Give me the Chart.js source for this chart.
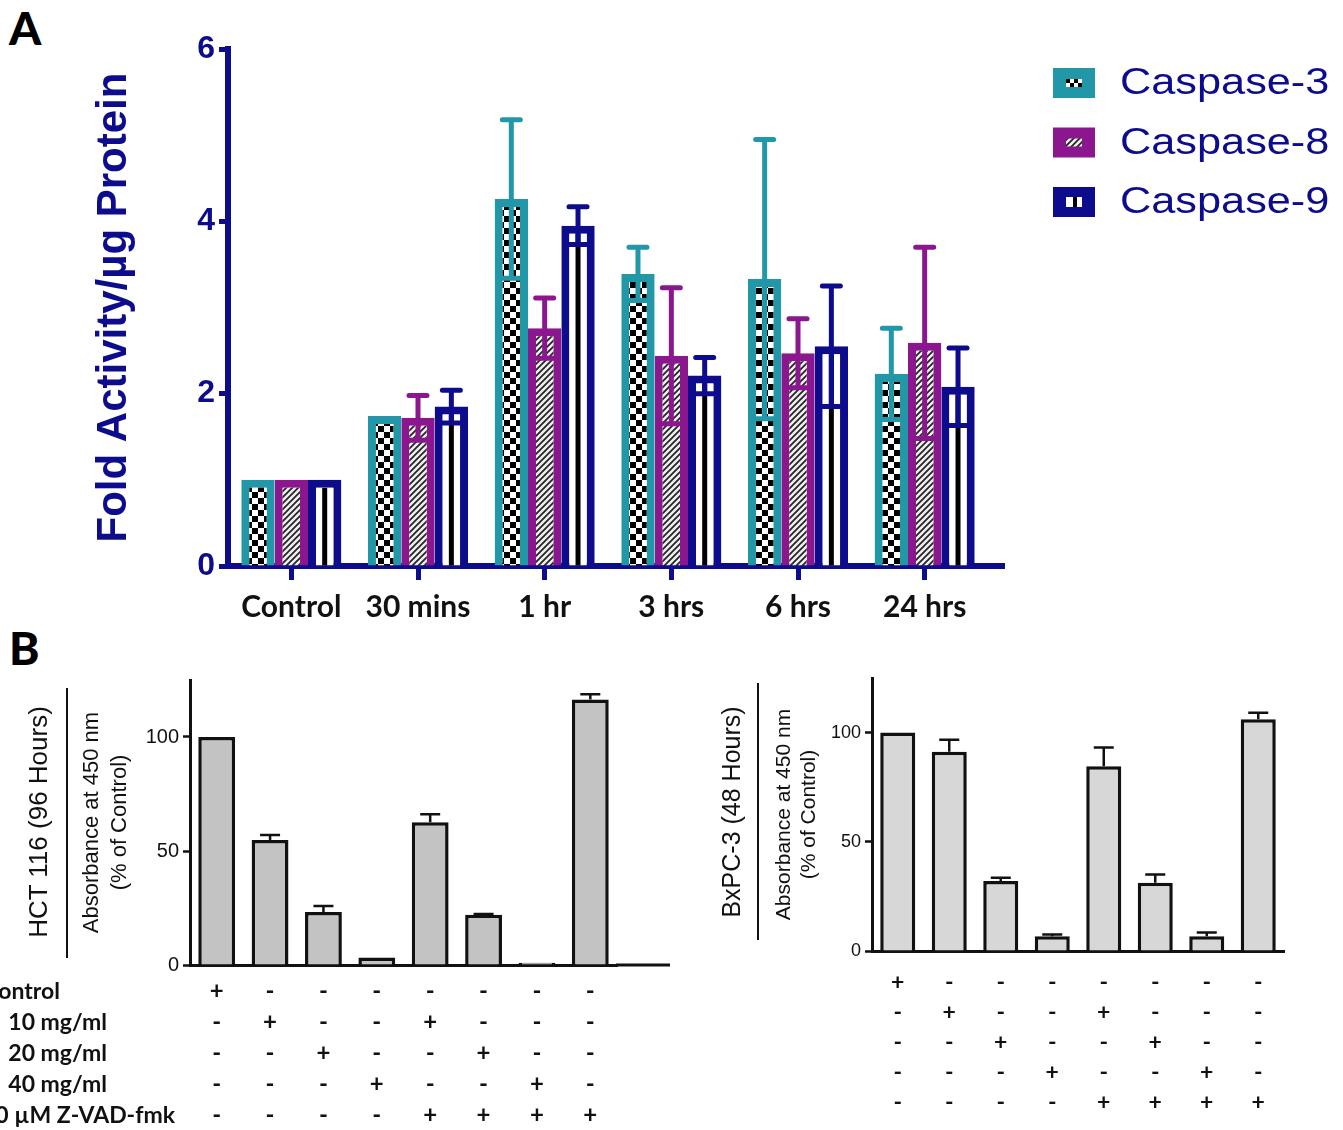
<!DOCTYPE html>
<html>
<head>
<meta charset="utf-8">
<script src="https://cdn.jsdelivr.net/npm/chart.js@4.4.1/dist/chart.umd.min.js"></script>
<style>
  html, body { margin: 0; padding: 0; background: #fff; }
  body { width: 1343px; height: 1130px; position: relative; overflow: hidden; font-family: "Liberation Sans", Arial, sans-serif; }
  canvas { position: absolute; }
  .txt { position: absolute; white-space: nowrap; }
  .rot { position: absolute; white-space: nowrap; transform: translate(-50%, -50%) rotate(-90deg); }
  .rowlbl { position: absolute; white-space: nowrap; text-align: right; font: bold 23px Lato, "Open Sans", sans-serif; color: #111; line-height: 30px; }
  .sep { position: absolute; background: #111; width: 2px; }
</style>
</head>
<body>

<div class="txt" style="left:9px; top:0px; font: 900 46px Lato, sans-serif; color:#000;">A</div>
<div class="txt" style="left:9px; top:620px; font: 900 46px Lato, sans-serif; color:#000;">B</div>

<canvas id="chartA" width="1343" height="640" style="left:0; top:0; width:1343px; height:640px;"></canvas>
<canvas id="chartHCT" width="700" height="490" style="left:0; top:640px; width:700px; height:490px;"></canvas>
<canvas id="chartBX" width="643" height="490" style="left:700px; top:640px; width:643px; height:490px;"></canvas>

<div class="rot" style="left:38px; top:822px; font: 26px 'Liberation Sans', Arial, sans-serif; color:#111;">HCT 116 (96 Hours)</div>
<div class="sep" style="left:66px; top:688px; height:270px;"></div>
<div class="rot" style="left:731px; top:812px; font: 25px 'Liberation Sans', Arial, sans-serif; color:#111;">BxPC-3 (48 Hours)</div>
<div class="sep" style="left:757px; top:683px; height:257px;"></div>

<div id="rowLabels"></div>

<script>
// ---------- Panel A: caspase activity over time ----------
const timeLabels = ['Control', '30 mins', '1 hr', '3 hrs', '6 hrs', '24 hrs'];
const caspase3 = [1.0, 1.74, 4.26, 3.39, 3.33, 2.23];
const caspase3Err = [0, 0, 0.92, 0.31, 1.62, 0.53];
const caspase8 = [1.0, 1.72, 2.76, 2.44, 2.47, 2.59];
const caspase8Err = [0, 0.26, 0.35, 0.79, 0.40, 1.11];
const caspase9 = [1.0, 1.85, 3.95, 2.21, 2.55, 2.08];
const caspase9Err = [0, 0.19, 0.22, 0.21, 0.70, 0.45];
const yTicksA = [0, 2, 4, 6];

// ---------- Panel B: viability with and without caspase inhibitor ----------
const treatmentRows = ['Control', '10 mg/ml', '20 mg/ml', '40 mg/ml', '0 \u00b5M Z-VAD-fmk'];
const treatmentMatrix = [
  [1, 0, 0, 0, 0, 0, 0, 0],
  [0, 1, 0, 0, 1, 0, 0, 0],
  [0, 0, 1, 0, 0, 1, 0, 0],
  [0, 0, 0, 1, 0, 0, 1, 0],
  [0, 0, 0, 0, 1, 1, 1, 1]
];
const hctValues = [100, 54.8, 23.2, 3.3, 62.6, 22.0, 1.0, 116.4];
const hctErr = [0, 2.2, 2.7, 0, 3.5, 0.4, 0, 2.4];
const bxpcValues = [100, 91.2, 32.0, 6.7, 84.6, 31.2, 6.7, 106.1];
const bxpcErr = [0, 5.5, 1.5, 0.8, 8.6, 3.8, 1.8, 3.0];
const yTicksB = [0, 50, 100];

const TEAL = '#2197a8';
const PURPLE = '#8b178f';
const NAVY = '#0c0c8c';

// columns of +/- marks, one multi-line tick label per bar
const columnMarks = treatmentMatrix[0].map((_, c) => treatmentMatrix.map(r => r[c] ? '+' : '-'));

function makeFill(ctx, kind) {
  const c = document.createElement('canvas');
  const g = c.getContext('2d');
  if (kind === 'checker') {
    c.width = 12; c.height = 12;
    g.fillStyle = '#fff'; g.fillRect(0, 0, 12, 12);
    g.fillStyle = '#000'; g.fillRect(0, 0, 6, 6); g.fillRect(6, 6, 6, 6);
  } else {
    c.width = 6; c.height = 6;
    g.fillStyle = '#eee'; g.fillRect(0, 0, 6, 6);
    g.strokeStyle = '#222'; g.lineWidth = 1.7;
    g.beginPath();
    g.moveTo(-1, 7); g.lineTo(7, -1);
    g.moveTo(-4, 4); g.lineTo(4, -4);
    g.moveTo(2, 10); g.lineTo(10, 2);
    g.stroke();
  }
  return ctx.createPattern(c, 'repeat');
}

// stripes inside striped bars, then +/- error bars with caps
const caspaseMarks = {
  id: 'caspaseMarks',
  afterDatasetsDraw(chart, args, opts) {
    const ctx = chart.ctx;
    const y = chart.scales.y;
    ctx.save();
    chart.data.datasets.forEach((ds, di) => {
      if (!opts.stripe[di]) return;
      const bw = ds.borderWidth;
      chart.getDatasetMeta(di).data.forEach(bar => {
        const p = bar.getProps(['x', 'y', 'base'], true);
        ctx.fillStyle = '#000';
        ctx.fillRect(p.x - 2.5, p.y + bw, 5, p.base - p.y - bw);
      });
    });
    chart.data.datasets.forEach((ds, di) => {
      const errs = opts.errors[di];
      const bw = ds.borderWidth;
      ctx.strokeStyle = ds.borderColor;
      ctx.lineWidth = 5;
      ctx.lineCap = 'round';
      chart.getDatasetMeta(di).data.forEach((bar, j) => {
        const e = errs[j];
        if (!e) return;
        const v = ds.data[j];
        const p = bar.getProps(['x', 'width'], true);
        const yHi = y.getPixelForValue(v + e);
        const yLo = y.getPixelForValue(v - e);
        const inner = p.width / 2 - bw;
        ctx.beginPath();
        ctx.moveTo(p.x, yLo); ctx.lineTo(p.x, yHi);
        ctx.moveTo(p.x - 9, yHi); ctx.lineTo(p.x + 9, yHi);
        ctx.moveTo(p.x - inner, yLo); ctx.lineTo(p.x + inner, yLo);
        ctx.stroke();
      });
    });
    // axis line runs a little past the last group
    const a = chart.chartArea;
    ctx.strokeStyle = NAVY; ctx.lineWidth = 6; ctx.lineCap = 'butt';
    ctx.beginPath();
    ctx.moveTo(a.right - 2, a.bottom); ctx.lineTo(a.right + opts.axisExtra, a.bottom);
    ctx.stroke();
    ctx.restore();
  }
};

const legendA = {
  id: 'legendA',
  afterDraw(chart, args, opts) {
    const ctx = chart.ctx;
    ctx.save();
    chart.data.datasets.forEach((ds, i) => {
      const top = opts.top + i * opts.gap;
      ctx.fillStyle = ds.borderColor;
      ctx.fillRect(opts.left, top, 42, 30);
      const cx = opts.left + 21, cy = top + 15;
      if (i === 0) {
        ctx.fillStyle = '#fff'; ctx.fillRect(cx - 8, cy - 4, 16, 8);
        ctx.fillStyle = '#000';
        ctx.fillRect(cx - 8, cy - 4, 4, 4); ctx.fillRect(cx, cy - 4, 4, 4);
        ctx.fillRect(cx - 4, cy, 4, 4); ctx.fillRect(cx + 4, cy, 4, 4);
      } else if (i === 1) {
        ctx.fillStyle = ds.backgroundColor; ctx.fillRect(cx - 8, cy - 4, 16, 8);
      } else {
        ctx.fillStyle = '#fff'; ctx.fillRect(cx - 8, cy - 5, 16, 10);
        ctx.fillStyle = '#000'; ctx.fillRect(cx - 1, cy - 5, 4, 10);
      }
      ctx.fillStyle = NAVY;
      ctx.font = '37px "Liberation Sans", Arial, sans-serif';
      ctx.textBaseline = 'middle';
      ctx.save();
      ctx.translate(opts.textX, cy + 1);
      ctx.scale(1.17, 1);
      ctx.fillText(ds.label, 0, 0);
      ctx.restore();
    });
    ctx.restore();
  }
};

const ctxA = document.getElementById('chartA').getContext('2d');
new Chart(ctxA, {
  type: 'bar',
  data: {
    labels: timeLabels,
    datasets: [
      { label: 'Caspase-3', data: caspase3, backgroundColor: makeFill(ctxA, 'checker'), borderColor: TEAL, borderWidth: 8, borderSkipped: 'start' },
      { label: 'Caspase-8', data: caspase8, backgroundColor: makeFill(ctxA, 'hatch'), borderColor: PURPLE, borderWidth: 8, borderSkipped: 'start' },
      { label: 'Caspase-9', data: caspase9, backgroundColor: '#ffffff', borderColor: NAVY, borderWidth: 8, borderSkipped: 'start' }
    ]
  },
  options: {
    responsive: false,
    animation: false,
    events: [],
    layout: { padding: { top: 49, right: 1343 - 988, left: 0, bottom: 0 } },
    datasets: { bar: { categoryPercentage: 0.79, barPercentage: 1.0 } },
    scales: {
      x: {
        z: 1,
        afterFit: s => { s.height = 74; },
        border: { display: true, color: NAVY, width: 6 },
        grid: { drawOnChartArea: false, drawTicks: true, tickLength: 14, tickWidth: 5, tickColor: NAVY, offset: false },
        ticks: { color: '#111', font: { family: 'Lato, "Open Sans", sans-serif', size: 30, weight: 'bold' }, padding: 9, maxRotation: 0, autoSkip: false }
      },
      y: {
        min: 0, max: 6,
        afterFit: s => { s.width = 228; },
        afterBuildTicks: s => { s.ticks = yTicksA.map(v => ({ value: v })); },
        border: { display: true, color: NAVY, width: 6 },
        grid: { drawOnChartArea: false, drawTicks: true, tickLength: 9, tickWidth: 5, tickColor: NAVY },
        ticks: { color: NAVY, font: { family: '"Liberation Sans", Arial, sans-serif', size: 32, weight: 'bold' }, padding: 4 },
        title: { display: true, text: 'Fold Activity/\u00b5g Protein', color: NAVY, font: { family: '"Liberation Sans", Arial, sans-serif', size: 42, weight: 'bold' }, padding: { top: 89, bottom: 0 } }
      }
    },
    plugins: {
      legend: { display: false },
      tooltip: { enabled: false },
      caspaseMarks: { errors: [caspase3Err, caspase8Err, caspase9Err], stripe: [false, false, true], axisExtra: 17 },
      legendA: { left: 1053, top: 68, gap: 59.5, textX: 1120 }
    }
  },
  plugins: [caspaseMarks, legendA]
});

// ---------- Panel B charts ----------
const upperErrors = {
  id: 'upperErrors',
  afterDatasetsDraw(chart, args, opts) {
    const ctx = chart.ctx;
    const y = chart.scales.y;
    const ds = chart.data.datasets[0];
    ctx.save();
    ctx.strokeStyle = '#111';
    ctx.lineWidth = 2.5;
    chart.getDatasetMeta(0).data.forEach((bar, j) => {
      const e = opts.errors[j];
      if (!e) return;
      const x = bar.getProps(['x'], true).x;
      const y0 = y.getPixelForValue(ds.data[j]);
      const y1 = y.getPixelForValue(ds.data[j] + e);
      ctx.beginPath();
      ctx.moveTo(x, y0); ctx.lineTo(x, y1);
      ctx.moveTo(x - 10, y1); ctx.lineTo(x + 10, y1);
      ctx.stroke();
    });
    const a = chart.chartArea;
    if (opts.axisExtra) {
      ctx.lineWidth = 3;
      ctx.beginPath();
      ctx.moveTo(a.right - 1, a.bottom); ctx.lineTo(a.right + opts.axisExtra, a.bottom);
      ctx.stroke();
    }
    ctx.restore();
  }
};

function viabilityChart(id, values, errs, cfg) {
  const ctx = document.getElementById(id).getContext('2d');
  return new Chart(ctx, {
    type: 'bar',
    data: {
      labels: columnMarks,
      datasets: [{ data: values, backgroundColor: cfg.fill, borderColor: '#111', borderWidth: 3.5, borderSkipped: 'start' }]
    },
    options: {
      responsive: false,
      animation: false,
      events: [],
      layout: { padding: { top: cfg.top, right: cfg.right, left: 0, bottom: 0 } },
      datasets: { bar: { categoryPercentage: cfg.barFrac, barPercentage: 1.0 } },
      scales: {
        x: {
          z: 1,
          afterFit: s => { s.height = cfg.xHeight; },
          border: { display: true, color: '#111', width: 3 },
          grid: { display: false },
          ticks: { color: '#111', font: { family: 'Lato, "Open Sans", sans-serif', size: cfg.markSize, weight: 'bold', lineHeight: cfg.rowGap / cfg.markSize }, padding: cfg.markPad, maxRotation: 0, autoSkip: false }
        },
        y: {
          min: 0, max: 125,
          afterFit: s => { s.width = cfg.yWidth; },
          afterBuildTicks: s => { s.ticks = yTicksB.map(v => ({ value: v })); },
          border: { display: true, color: '#111', width: 3 },
          grid: { drawOnChartArea: false, drawTicks: true, tickLength: 7, tickWidth: 2.5, tickColor: '#111' },
          ticks: { color: '#111', font: { family: '"Liberation Sans", Arial, sans-serif', size: cfg.tickSize }, padding: 4 },
          title: { display: true, text: ['Absorbance at 450 nm', '(% of Control)'], color: '#111',
                   font: { family: '"Liberation Sans", Arial, sans-serif', size: cfg.titleSize, lineHeight: cfg.titleLine / cfg.titleSize },
                   padding: { top: cfg.titlePad, bottom: 0 } }
        }
      },
      plugins: {
        legend: { display: false },
        tooltip: { enabled: false },
        upperErrors: { errors: errs, axisExtra: cfg.axisExtra }
      }
    },
    plugins: [upperErrors]
  });
}

viabilityChart('chartHCT', hctValues, hctErr, {
  fill: '#c3c3c3', top: 40, right: 700 - 617, xHeight: 165, yWidth: 190, barFrac: 0.69,
  markSize: 24, rowGap: 31, markPad: 3, tickSize: 20, titleSize: 22, titleLine: 28, titlePad: 78, axisExtra: 53
});
viabilityChart('chartBX', bxpcValues, bxpcErr, {
  fill: '#d7d7d7', top: 38, right: 643 - 1284 + 700, xHeight: 179, yWidth: 172, barFrac: 0.68,
  markSize: 23, rowGap: 30, markPad: 9, tickSize: 18, titleSize: 21, titleLine: 25, titlePad: 72, axisExtra: 0
});

// row captions for the treatment table
const rowRight = [60, 107, 107, 107, 175];
const rowCenter = [990, 1021, 1052, 1083, 1114];
const holder = document.getElementById('rowLabels');
treatmentRows.forEach((t, i) => {
  const d = document.createElement('div');
  d.className = 'rowlbl';
  d.textContent = t;
  d.style.right = (1343 - rowRight[i]) + 'px';
  d.style.top = (rowCenter[i] - 15) + 'px';
  holder.appendChild(d);
});
</script>
</body>
</html>
